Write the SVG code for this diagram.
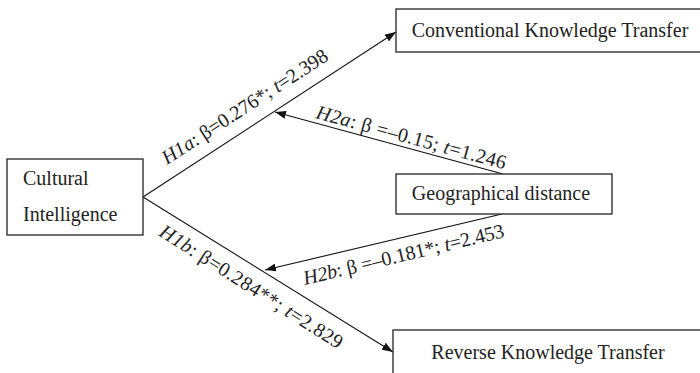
<svg xmlns="http://www.w3.org/2000/svg" width="700" height="373" viewBox="0 0 700 373">
<defs>
<marker id="ah" markerUnits="userSpaceOnUse" markerWidth="12" markerHeight="8" refX="11" refY="4" orient="auto">
<path d="M0,0 L11,4 L0,8 z" fill="#111"/>
</marker>
<style>
.box{fill:#fff;stroke:#333;stroke-width:1.4}
.t{font-family:"Liberation Serif","Times New Roman",serif;font-size:20px;fill:#222}
.lbl{font-family:"Liberation Serif","Times New Roman",serif;font-size:20px;fill:#222}
.i{font-style:italic}
.ln{stroke:#111;stroke-width:1.1;fill:none;marker-end:url(#ah)}
</style>
</defs>
<rect width="700" height="373" fill="#fff"/>
<g id="connectors">
<line class="ln" x1="143" y1="197" x2="396" y2="32"/>
<line class="ln" x1="143" y1="197" x2="393" y2="352"/>
<line class="ln" x1="503" y1="174" x2="275" y2="112"/>
<line class="ln" x1="502" y1="214" x2="265" y2="270"/>
<text class="lbl" transform="translate(167,165) rotate(-33)"><tspan class="i">H1a</tspan>: β=0.276*; <tspan class="i">t</tspan>=2.398</text>
<text class="lbl" transform="translate(315,118) rotate(15.2)" textLength="196" lengthAdjust="spacing"><tspan class="i">H2a</tspan>: β =–0.15; <tspan class="i">t</tspan>=1.246</text>
<text class="lbl" transform="translate(158,235) rotate(32.5)" textLength="213" lengthAdjust="spacing"><tspan class="i">H1b</tspan>: β=0.284**; <tspan class="i">t</tspan>=2.829</text>
<text class="lbl" transform="translate(305,285) rotate(-13.5)" textLength="206" lengthAdjust="spacing"><tspan class="i">H2b</tspan>: β =–0.181*; <tspan class="i">t</tspan>=2.453</text>
</g>
<g id="cultural-intelligence">
<rect class="box" x="7" y="159" width="136" height="76"/>
<text class="t" x="23" y="185">Cultural</text>
<text class="t" x="23" y="221">Intelligence</text>
</g>
<g id="conventional-knowledge-transfer">
<rect class="box" x="396" y="9" width="320" height="43"/>
<text class="t" x="550" y="37" text-anchor="middle">Conventional Knowledge Transfer</text>
</g>
<g id="geographical-distance">
<rect class="box" x="396" y="174" width="216" height="40"/>
<text class="t" x="501" y="200" text-anchor="middle">Geographical distance</text>
</g>
<g id="reverse-knowledge-transfer">
<rect class="box" x="393" y="330" width="320" height="60"/>
<text class="t" x="548" y="359" text-anchor="middle">Reverse Knowledge Transfer</text>
</g>
</svg>
